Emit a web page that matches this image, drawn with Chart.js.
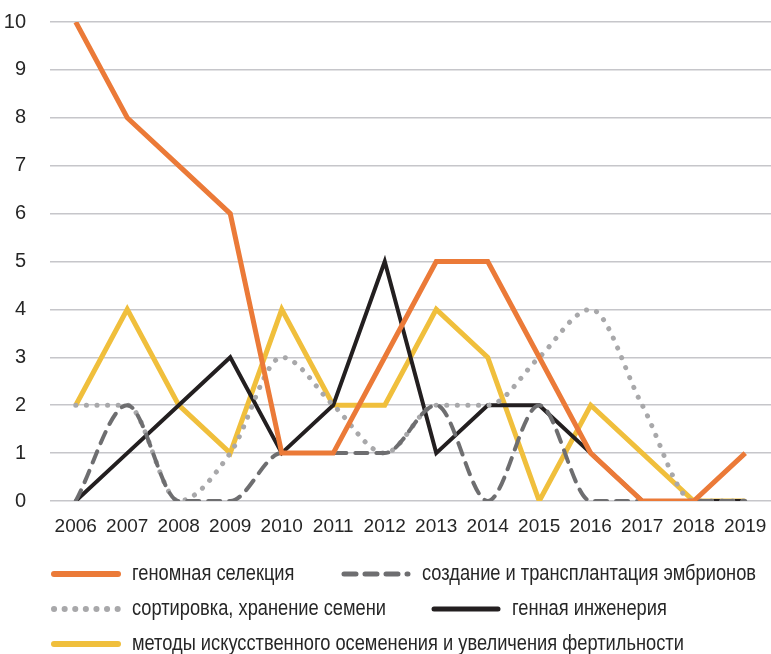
<!DOCTYPE html>
<html>
<head>
<meta charset="utf-8">
<script src="https://cdn.jsdelivr.net/npm/chart.js@4/dist/chart.umd.min.js"></script>
<style>
  html, body { margin: 0; padding: 0; background: #fff; }
  #wrap { width: 771px; height: 654px; position: relative; }
</style>
</head>
<body>
<div id="wrap"><canvas id="chart"></canvas></div>
<script>
const years = ['2006','2007','2008','2009','2010','2011','2012','2013','2014','2015','2016','2017','2018','2019'];

const genomic   = [10, 8, 7, 6, 1, 1, 3, 5, 5, 3, 1, 0, 0, 1];
const embryos   = [0, 2, 0, 0, 1, 1, 1, 2, 0, 2, 0, 0, 0, 0];
const semen     = [2, 2, 0, 1, 3, 2, 1, 2, 2, 3, 4, 2, 0, 0];
const genetic   = [0, 1, 2, 3, 1, 2, 5, 1, 2, 2, 1, 0, 0, 0];
const insemin   = [2, 4, 2, 1, 4, 2, 2, 4, 3, 0, 2, 1, 0, 0];

const FONT = "'Liberation Sans Narrow', 'Liberation Sans', Arial, sans-serif";
const TEXT = '#262626';

// legend rows, drawn by hand to follow the original's layout
const legendSlots = [
  { ds: 0, x: 50,  y: 574 },
  { ds: 1, x: 340, y: 574 },
  { ds: 2, x: 50,  y: 609 },
  { ds: 3, x: 430, y: 609 },
  { ds: 4, x: 50,  y: 644 }
];

const legendPlugin = {
  id: 'rowLegend',
  afterDraw(chart) {
    const ctx = chart.ctx;
    legendSlots.forEach(s => {
      const ds = chart.data.datasets[s.ds];
      ctx.save();
      ctx.strokeStyle = ds.borderColor;
      ctx.lineWidth = ds.borderWidth + 1;
      ctx.lineCap = 'round';
      ctx.setLineDash(ds.borderDash || []);
      ctx.beginPath();
      ctx.moveTo(s.x + 4, s.y);
      ctx.lineTo(s.x + 68, s.y);
      ctx.stroke();
      ctx.restore();

      // squeeze the text a bit, the original uses a narrow face
      ctx.save();
      ctx.font = '22px ' + FONT;
      ctx.fillStyle = TEXT;
      ctx.textBaseline = 'middle';
      ctx.translate(s.x + 82, s.y);
      ctx.scale(0.83, 1);
      ctx.fillText(ds.label, 0, 0);
      ctx.restore();
    });
  }
};

new Chart(document.getElementById('chart'), {
  type: 'line',
  data: {
    labels: years,
    datasets: [
      { label: 'геномная селекция', data: genomic, borderColor: '#EB7A38', borderWidth: 5 },
      { label: 'создание и трансплантация эмбрионов', data: embryos, borderColor: '#6E6E70', borderWidth: 4,
        borderDash: [12, 9], borderCapStyle: 'round', cubicInterpolationMode: 'monotone' },
      { label: 'сортировка, хранение семени', data: semen, borderColor: '#A8A8AA', borderWidth: 5,
        borderDash: [0.1, 10.5], borderCapStyle: 'round', cubicInterpolationMode: 'monotone' },
      { label: 'генная инженерия', data: genetic, borderColor: '#231F20', borderWidth: 4 },
      { label: 'методы искусственного осеменения и увеличения фертильности', data: insemin,
        borderColor: '#F0BF3C', borderWidth: 5 }
    ].map(d => Object.assign({ pointRadius: 0, fill: false, tension: 0, borderJoinStyle: 'miter' }, d))
  },
  options: {
    responsive: true,
    maintainAspectRatio: false,
    animation: false,
    layout: { padding: { top: 22, right: 0, left: 0, bottom: 108 } },
    plugins: { legend: { display: false }, tooltip: { enabled: false } },
    scales: {
      x: {
        offset: true,
        grid: { display: false, drawTicks: false },
        border: { display: false },
        ticks: { color: TEXT, font: { family: FONT, size: 19 }, padding: 14, maxRotation: 0, autoSkip: false },
        afterFit(scale) {
          scale.height = 45;
          scale.paddingLeft = 0;
          scale.paddingRight = 0;
        }
      },
      y: {
        min: 0, max: 10,
        grid: { color: '#C6C6CA', lineWidth: 1.5, drawTicks: false },
        border: { display: false },
        ticks: { stepSize: 1, color: TEXT, font: { family: FONT, size: 20 }, padding: 24 },
        afterFit(scale) {
          scale.width = 50;
          scale.paddingTop = 0;
          scale.paddingBottom = 0;
        }
      }
    }
  },
  plugins: [legendPlugin]
});
</script>
</body>
</html>
